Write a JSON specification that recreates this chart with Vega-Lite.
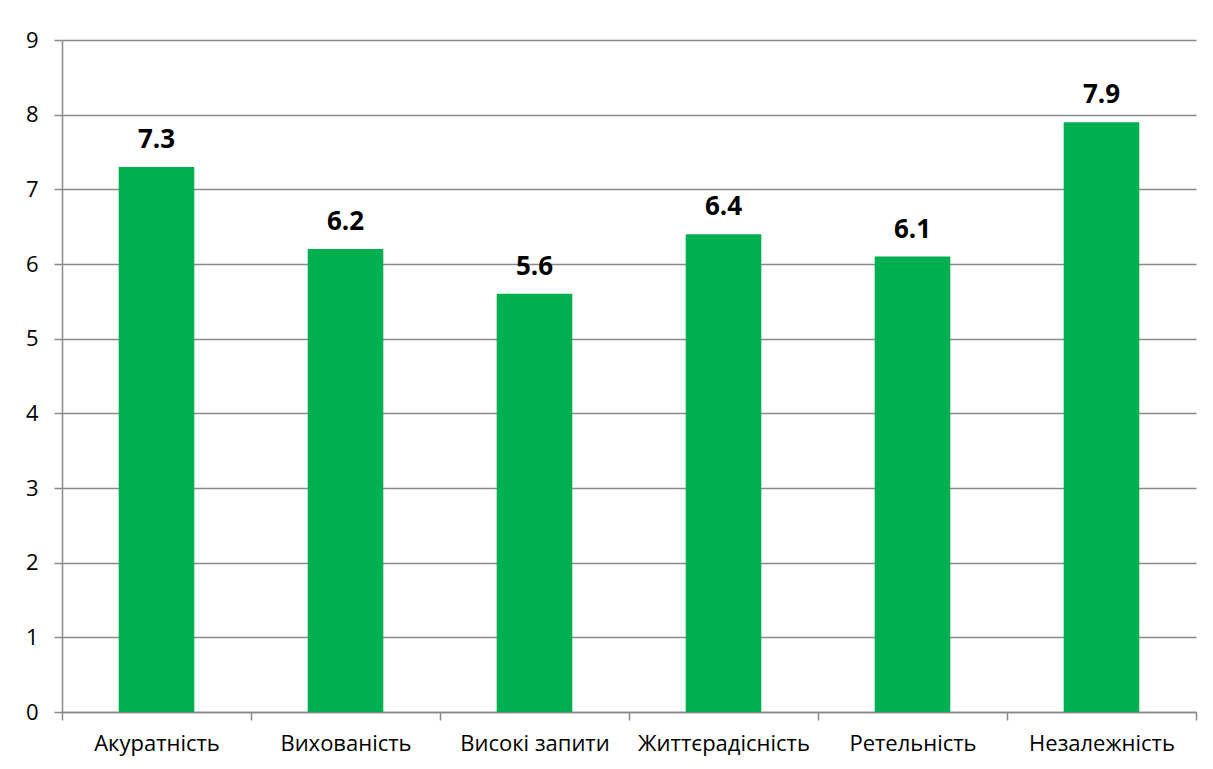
{
  "$schema": "https://vega.github.io/schema/vega-lite/v6.json",
  "width": 1134,
  "height": 672,
  "autosize": "none",
  "padding": {"left": 62, "top": 40, "right": 17, "bottom": 57},
  "background": "white",
  "config": {
    "view": {"stroke": null},
    "font": "Open Sans"
  },
  "data": {
    "values": [
      {"trait": "Акуратність", "value": 7.3},
      {"trait": "Вихованість", "value": 6.2},
      {"trait": "Високі запити", "value": 5.6},
      {"trait": "Життєрадісність", "value": 6.4},
      {"trait": "Ретельність", "value": 6.1},
      {"trait": "Незалежність", "value": 7.9}
    ]
  },
  "encoding": {
    "x": {
      "field": "trait",
      "type": "nominal",
      "sort": null,
      "scale": {"paddingInner": 0, "paddingOuter": 0},
      "axis": {
        "title": null,
        "labelAngle": 0,
        "labelFont": "Open Sans",
        "labelFontSize": 22,
        "labelColor": "#000000",
        "labelPadding": 13,
        "tickBand": "extent",
        "tickSize": 8,
        "tickColor": "#898989",
        "tickWidth": 1.5,
        "domainColor": "#898989",
        "domainWidth": 1.5,
        "grid": false
      }
    },
    "y": {
      "field": "value",
      "type": "quantitative",
      "scale": {"domain": [0, 9], "nice": false},
      "axis": {
        "title": null,
        "values": [0, 1, 2, 3, 4, 5, 6, 7, 8, 9],
        "labelFont": "Open Sans",
        "labelFontSize": 22,
        "labelColor": "#000000",
        "labelPadding": 16,
        "tickSize": 8,
        "tickColor": "#898989",
        "tickWidth": 1.5,
        "domainColor": "#898989",
        "domainWidth": 1.5,
        "grid": true,
        "gridColor": "#898989",
        "gridWidth": 1.5,
        "gridOpacity": 1
      }
    }
  },
  "layer": [
    {
      "mark": {"type": "bar", "color": "#00B050", "width": {"band": 0.4}}
    },
    {
      "mark": {"type": "text", "fontWeight": "bold", "fontSize": 26, "font": "Open Sans", "color": "#000000", "baseline": "alphabetic", "dy": -19},
      "encoding": {"text": {"field": "value", "type": "quantitative", "format": ".1f"}}
    }
  ]
}
